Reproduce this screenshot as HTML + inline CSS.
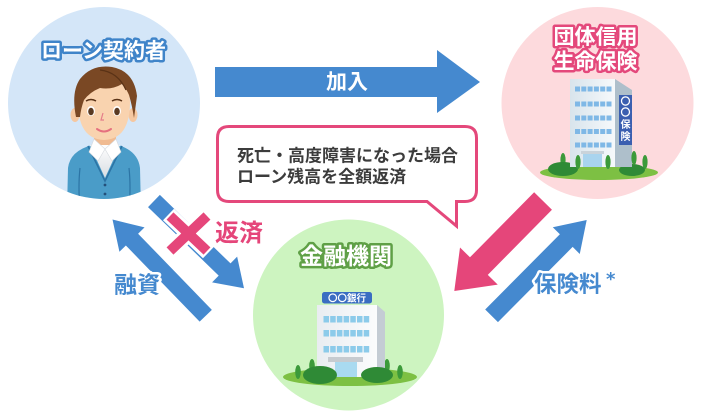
<!DOCTYPE html>
<html>
<head>
<meta charset="utf-8">
<style>
  html,body{margin:0;padding:0;background:#fff;}
  body{width:718px;height:416px;overflow:hidden;}
  svg{display:block;}
  text{font-family:"Liberation Sans","Noto Sans CJK JP",sans-serif;font-weight:bold;}
</style>
</head>
<body>
<svg width="718" height="416" viewBox="0 0 718 416" xmlns="http://www.w3.org/2000/svg">
  <defs>
    <clipPath id="clipL"><circle cx="104" cy="103" r="96"/></clipPath>
    <linearGradient id="bldR" x1="0" y1="0" x2="1" y2="0">
      <stop offset="0" stop-color="#d8e4ec"/>
      <stop offset="1" stop-color="#f6f9fb"/>
    </linearGradient>
    <linearGradient id="bldC" x1="0" y1="0" x2="1" y2="0">
      <stop offset="0" stop-color="#e9edf1"/>
      <stop offset="1" stop-color="#fbfcfd"/>
    </linearGradient>
    <linearGradient id="shirt" x1="0" y1="0" x2="0" y2="1">
      <stop offset="0" stop-color="#ffffff"/>
      <stop offset="1" stop-color="#d9dde2"/>
    </linearGradient>
  </defs>

  <!-- circles -->
  <circle cx="104" cy="103" r="96" fill="#d4e6f8"/>
  <circle cx="597.5" cy="103" r="96" fill="#fddadd"/>
  <circle cx="348.5" cy="315" r="95.5" fill="#cdf4c0"/>

  <!-- person -->
  <g clip-path="url(#clipL)">
    <rect x="94" y="128" width="22" height="22" fill="#f0bb92"/>
    <path d="M67,210 L68,168 Q70,151 92,145 L118,145 Q138,151 140,168 L141,210 Z" fill="#4a9cc8"/>
    <path d="M90,145 L105,178 L120,145 Z" fill="url(#shirt)"/>
    <path d="M88,146 L105,181 L122,146" fill="none" stroke="#2c74a5" stroke-width="1.6"/>
    <path d="M94,139 L89,152 L98,161 L105,149 Z" fill="#fff" stroke="#d5d9de" stroke-width="0.6"/>
    <path d="M116,139 L121,152 L112,161 L105,149 Z" fill="#fff" stroke="#d5d9de" stroke-width="0.6"/>
    <path d="M80,168 Q78,186 80,210" fill="none" stroke="#2c74a5" stroke-width="1.2"/>
    <path d="M129,168 Q131,186 129,210" fill="none" stroke="#2c74a5" stroke-width="1.2"/>
    <circle cx="105" cy="185" r="1.4" fill="#24507a"/>
    <circle cx="105" cy="194" r="1.4" fill="#24507a"/>
  </g>
  <ellipse cx="75" cy="115" rx="4.5" ry="7" fill="#f5c7a0"/>
  <ellipse cx="133" cy="115" rx="4.5" ry="7" fill="#f5c7a0"/>
  <path d="M78,102 Q78,139 104,140 Q130,139 130,102 Q130,80 104,80 Q78,80 78,102 Z" fill="#f9d3af"/>
  <path d="M76,117 Q71,92 80,79 Q92,64 112,67 Q134,71 137,96 L134,118 Q132,105 129,95 Q126,88 122,84 Q112,90 100,88 Q90,92 84,100 Q81,108 80,117 Z" fill="#7a4824"/>
  <path d="M100,70 Q118,72 126,90" fill="none" stroke="#5a3216" stroke-width="1.2"/>
  <path d="M86,101 Q91,98 96,101" fill="none" stroke="#5a3216" stroke-width="1.5"/>
  <path d="M112,101 Q117,98 122,101" fill="none" stroke="#5a3216" stroke-width="1.5"/>
  <ellipse cx="91" cy="111" rx="4" ry="5" fill="#fff"/>
  <ellipse cx="117" cy="111" rx="4" ry="5" fill="#fff"/>
  <ellipse cx="91" cy="111.5" rx="2.8" ry="3.8" fill="#5a3a22"/>
  <ellipse cx="117" cy="111.5" rx="2.8" ry="3.8" fill="#5a3a22"/>
  <path d="M103,113 L101,120 L104,120" fill="none" stroke="#e57d8a" stroke-width="1.2"/>
  <path d="M97,129 Q104,134 111,129" fill="none" stroke="#e5707f" stroke-width="2" stroke-linecap="round"/>

  <!-- insurance building -->
  <ellipse cx="599" cy="172.5" rx="59" ry="7.5" fill="#7dc043"/>
  <ellipse cx="563" cy="160" rx="2.6" ry="7" fill="#3c9a3a"/>
  <ellipse cx="645" cy="162" rx="2.6" ry="7" fill="#3c9a3a"/>
  <ellipse cx="563" cy="169" rx="15" ry="7" fill="#2f8a36"/>
  <ellipse cx="632" cy="170" rx="13" ry="6" fill="#2f8a36"/>
  <rect x="570" y="79" width="45" height="88" fill="url(#bldR)"/>
  <polygon points="615,79 632,90 632,167 615,167" fill="#aebfcb"/>
  <rect x="619" y="95" width="13" height="50" fill="#3b5fb0"/>
  <text x="625.5" y="105" font-size="10" fill="#fff" text-anchor="middle">〇</text>
  <text x="625.5" y="116" font-size="10" fill="#fff" text-anchor="middle">〇</text>
  <text x="625.5" y="128" font-size="10" fill="#fff" text-anchor="middle">保</text>
  <text x="625.5" y="140" font-size="10" fill="#fff" text-anchor="middle">険</text>
  <g fill="#7fb8e6">
    <rect x="575" y="86.5" width="5" height="5"/><rect x="581.3" y="86.5" width="5" height="5"/><rect x="587.6" y="86.5" width="5" height="5"/><rect x="593.9" y="86.5" width="5" height="5"/><rect x="600.2" y="86.5" width="5" height="5"/><rect x="606.5" y="86.5" width="5" height="5"/>
    <rect x="575" y="101.5" width="5" height="5"/><rect x="581.3" y="101.5" width="5" height="5"/><rect x="587.6" y="101.5" width="5" height="5"/><rect x="593.9" y="101.5" width="5" height="5"/><rect x="600.2" y="101.5" width="5" height="5"/><rect x="606.5" y="101.5" width="5" height="5"/>
    <rect x="575" y="115.5" width="5" height="5"/><rect x="581.3" y="115.5" width="5" height="5"/><rect x="587.6" y="115.5" width="5" height="5"/><rect x="593.9" y="115.5" width="5" height="5"/><rect x="600.2" y="115.5" width="5" height="5"/><rect x="606.5" y="115.5" width="5" height="5"/>
    <rect x="575" y="129" width="5" height="5"/><rect x="581.3" y="129" width="5" height="5"/><rect x="587.6" y="129" width="5" height="5"/><rect x="593.9" y="129" width="5" height="5"/><rect x="600.2" y="129" width="5" height="5"/><rect x="606.5" y="129" width="5" height="5"/>
    <rect x="575" y="142.5" width="5" height="5"/><rect x="581.3" y="142.5" width="5" height="5"/><rect x="587.6" y="142.5" width="5" height="5"/><rect x="593.9" y="142.5" width="5" height="5"/><rect x="600.2" y="142.5" width="5" height="5"/><rect x="606.5" y="142.5" width="5" height="5"/>
  </g>
  <rect x="581" y="151" width="23" height="3" fill="#c9d3da"/>
  <rect x="583" y="154" width="19" height="13" fill="#a9d4ee"/>
  <ellipse cx="578" cy="162" rx="2.6" ry="7" fill="#3c9a3a"/>
  <ellipse cx="608" cy="162" rx="2.6" ry="7" fill="#3c9a3a"/>
  <ellipse cx="634" cy="158" rx="2.6" ry="7" fill="#3c9a3a"/>

  <!-- bank building -->
  <ellipse cx="350" cy="377" rx="67" ry="9" fill="#7dc043"/>
  <ellipse cx="298" cy="372" rx="2.8" ry="7" fill="#3c9a3a"/>
  <ellipse cx="312" cy="366" rx="2.8" ry="7" fill="#3c9a3a"/>
  <ellipse cx="387" cy="366" rx="2.8" ry="7" fill="#3c9a3a"/>
  <ellipse cx="400" cy="372" rx="2.8" ry="7" fill="#3c9a3a"/>
  <rect x="317" y="305" width="60" height="72" fill="url(#bldC)"/>
  <polygon points="377,305 385,312 385,377 377,377" fill="#c4ccd4"/>
  <g fill="#8ccbea">
    <rect x="323.5" y="316" width="5.5" height="6.5"/><rect x="330.2" y="316" width="5.5" height="6.5"/><rect x="336.9" y="316" width="5.5" height="6.5"/><rect x="343.6" y="316" width="5.5" height="6.5"/><rect x="350.3" y="316" width="5.5" height="6.5"/><rect x="357" y="316" width="5.5" height="6.5"/><rect x="363.7" y="316" width="5.5" height="6.5"/>
    <rect x="323.5" y="330" width="5.5" height="6.5"/><rect x="330.2" y="330" width="5.5" height="6.5"/><rect x="336.9" y="330" width="5.5" height="6.5"/><rect x="343.6" y="330" width="5.5" height="6.5"/><rect x="350.3" y="330" width="5.5" height="6.5"/><rect x="357" y="330" width="5.5" height="6.5"/><rect x="363.7" y="330" width="5.5" height="6.5"/>
    <rect x="323.5" y="346" width="5.5" height="6.5"/><rect x="330.2" y="346" width="5.5" height="6.5"/><rect x="336.9" y="346" width="5.5" height="6.5"/><rect x="343.6" y="346" width="5.5" height="6.5"/><rect x="350.3" y="346" width="5.5" height="6.5"/><rect x="357" y="346" width="5.5" height="6.5"/><rect x="363.7" y="346" width="5.5" height="6.5"/>
  </g>
  <rect x="328" y="357" width="35" height="5" fill="#c6cbd0"/>
  <rect x="335" y="362" width="22" height="15" fill="#a9daf0"/>
  <ellipse cx="320" cy="375" rx="17" ry="9" fill="#2f8a36"/>
  <ellipse cx="377" cy="375" rx="16" ry="8" fill="#2f8a36"/>
  <rect x="322" y="292" width="50" height="11.5" rx="2.5" fill="#3a6dc2"/>
  <text x="347" y="301.5" font-size="9.5" fill="#fff" text-anchor="middle">〇〇銀行</text>

  <!-- titles -->
  <text x="103.5" y="58" font-size="21" fill="#fff" stroke="#3f84c9" stroke-width="5" stroke-linejoin="round" paint-order="stroke" text-anchor="middle">ローン契約者</text>
  <text x="595.5" y="44" font-size="21" fill="#fff" stroke="#e4487b" stroke-width="5" stroke-linejoin="round" paint-order="stroke" text-anchor="middle">団体信用</text>
  <text x="595.5" y="68.5" font-size="21" fill="#fff" stroke="#e4487b" stroke-width="5" stroke-linejoin="round" paint-order="stroke" text-anchor="middle">生命保険</text>
  <text x="346" y="264" font-size="23" fill="#fff" stroke="#5fa046" stroke-width="5" stroke-linejoin="round" paint-order="stroke" text-anchor="middle">金融機関</text>

  <!-- top arrow -->
  <polygon points="215,67 437,67 437,50 480,82 437,113 437,97 215,97" fill="#4589cf"/>
  <text x="347" y="89" font-size="21" fill="#fff" text-anchor="middle">加入</text>

  <!-- left arrows -->
  <g transform="translate(112.5,219.5) rotate(-134.1)">
    <polygon points="0,0 -28,-17.5 -28,-8.5 -134,-8.5 -134,8.5 -28,8.5 -28,17.5" fill="#4589cf"/>
  </g>
  <g transform="translate(244,288.3) rotate(44.1)">
    <polygon points="0,0 -27,-18 -27,-8.5 -125.4,-8.5 -125.4,8.5 -27,8.5 -27,18" fill="#4589cf"/>
  </g>
  <!-- pink X -->
  <g stroke-linecap="butt">
    <line x1="168.5" y1="214.5" x2="208.5" y2="252.5" stroke="#fff" stroke-width="16"/>
    <line x1="208.5" y1="214.5" x2="168.5" y2="252.5" stroke="#fff" stroke-width="16"/>
    <line x1="170" y1="216" x2="207" y2="251" stroke="#e5467a" stroke-width="10"/>
    <line x1="207" y1="216" x2="170" y2="251" stroke="#e5467a" stroke-width="10"/>
  </g>
  <text x="215" y="241" font-size="24" fill="#e5467a" stroke="#fff" stroke-width="5" stroke-linejoin="round" paint-order="stroke">返済</text>
  <text x="114" y="292.5" font-size="23" fill="#4589cf" stroke="#fff" stroke-width="5" stroke-linejoin="round" paint-order="stroke">融資</text>

  <!-- right arrows -->
  <g transform="translate(454.3,291) rotate(134.6)">
    <polygon points="0,0 -35,-26.5 -35,-12.5 -126.4,-12.5 -126.4,12.5 -35,12.5 -35,26.5" fill="#e5467a"/>
  </g>
  <g transform="translate(586.7,220) rotate(-45.2)">
    <polygon points="0,0 -29,-19 -29,-9 -135,-9 -135,9 -29,9 -29,19" fill="#4589cf"/>
  </g>
  <text x="534" y="292" font-size="22.5" fill="#4589cf" stroke="#fff" stroke-width="5" stroke-linejoin="round" paint-order="stroke">保険料</text>
  <text x="606" y="285" font-size="18" fill="#4589cf" stroke="#fff" stroke-width="4" stroke-linejoin="round" paint-order="stroke" style="font-family:'DejaVu Sans',sans-serif;font-weight:bold">*</text>

  <!-- speech bubble -->
  <path d="M229,126.5 H465 Q476.5,126.5 476.5,138 V190 Q476.5,201.5 465,201.5 H456.5 V226 L427,201.5 H229 Q217.5,201.5 217.5,190 V138 Q217.5,126.5 229,126.5 Z" fill="#fff" stroke="#e4487b" stroke-width="3" stroke-linejoin="miter"/>
  <text x="237" y="161.5" font-size="17" fill="#3c3c3c">死亡・高度障害になった場合</text>
  <text x="237" y="182.5" font-size="17" fill="#3c3c3c">ローン残高を全額返済</text>
</svg>
</body>
</html>
